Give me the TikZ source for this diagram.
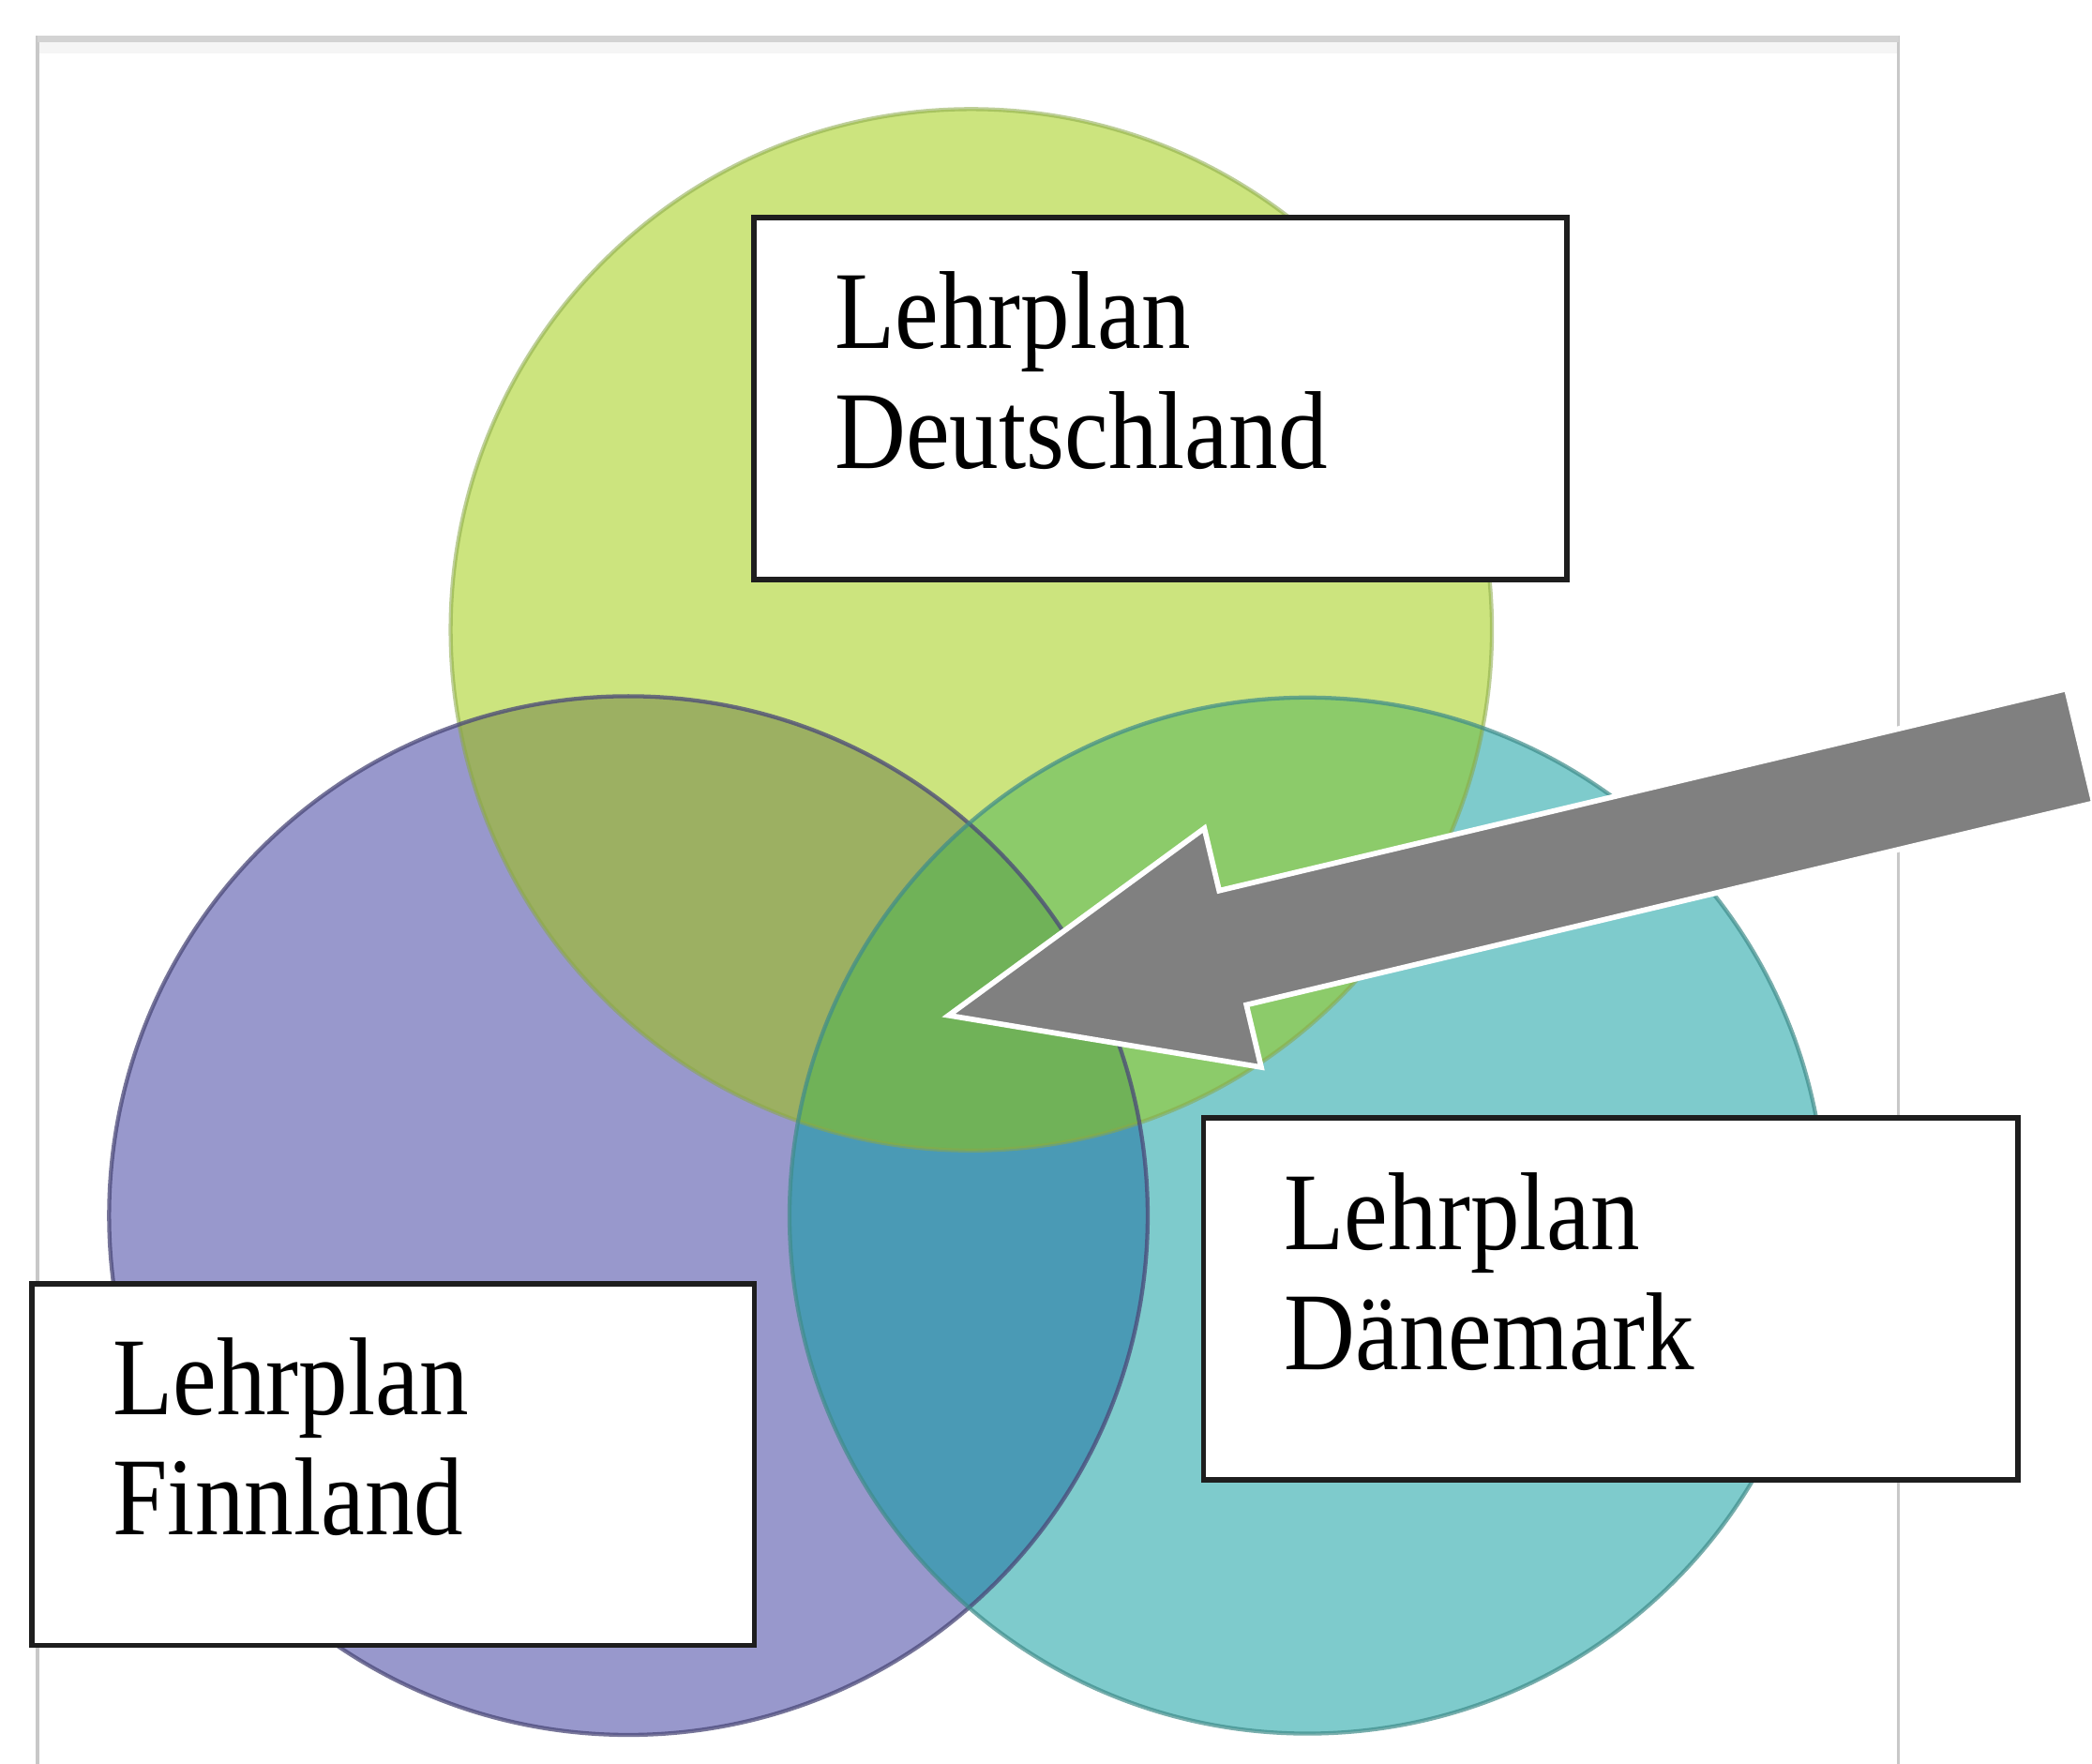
\documentclass[tikz,border=0pt]{standalone}
\usepackage{fontspec}
\setmainfont{Liberation Serif}[FakeStretch=0.89]
\usetikzlibrary{calc}
\definecolor{cG}{HTML}{CCE47E}
\definecolor{cP}{HTML}{9898CC}
\definecolor{cT}{HTML}{7ECBCC}
\definecolor{cGP}{HTML}{9CB062}
\definecolor{cGT}{HTML}{8CCB6A}
\definecolor{cPT}{HTML}{4A9AB5}
\definecolor{cGPT}{HTML}{70B258}
\definecolor{eG}{HTML}{8AA848}
\definecolor{eP}{HTML}{4A4878}
\definecolor{eT}{HTML}{3F8C8A}
\definecolor{framec}{HTML}{C8C8C8}
\definecolor{boxc}{HTML}{1E1E1E}
\definecolor{arrowc}{HTML}{808080}
\tikzset{
  labelbox/.style={draw=boxc, line width=0.04cm, fill=white, inner sep=0pt,
    anchor=north west, minimum height=2.71cm},
  labeltext/.style={inner sep=0pt, anchor=north west, align=left,
    font=\fontsize{23.6pt}{25.6pt}\selectfont, text=black},
  blockarrow/.style={fill=arrowc, draw=white, line width=0.04cm, line join=miter},
}
\begin{document}
\begin{tikzpicture}[x=0.01cm,y=-0.01cm]
\useasboundingbox (0,0) rectangle (1568,1322);
\fill[white] (0,0) rectangle (1568,1322);
% frame
\fill[black!4] (29,29) rectangle (1422,40);
\draw[framec, line width=0.025cm] (28,1330) -- (28,28) -- (1423,28) -- (1423,1330);
\draw[framec!80!white, line width=0.05cm] (28,29) -- (1423,29);
% circle fills
\def\cGreen{(728,472) circle [radius=3.90cm]}
\def\cPurple{(471,911) circle [radius=3.89cm]}
\def\cTeal{(980,911) circle [radius=3.88cm]}
\fill[cG] \cGreen;
\fill[cP] \cPurple;
\fill[cT] \cTeal;
\begin{scope}
  \clip \cGreen;
  \fill[cGP] \cPurple;
  \fill[cGT] \cTeal;
\end{scope}
\begin{scope}
  \clip \cPurple;
  \fill[cPT] \cTeal;
\end{scope}
\begin{scope}
  \clip \cGreen;
  \clip \cPurple;
  \fill[cGPT] \cTeal;
\end{scope}
% circle outlines
\draw[eG, draw opacity=0.55, line width=0.03cm] \cGreen;
\draw[eP, draw opacity=0.75, line width=0.03cm] \cPurple;
\draw[eT, draw opacity=0.7, line width=0.03cm] \cTeal;
% boxes
\node[labelbox, minimum width=6.09cm] (dbox) at (563,161) {};
\node[labelbox, minimum width=6.10cm] (dkbox) at (900,836) {};
\node[labelbox, minimum width=5.41cm] (fbox) at (22,960) {};
\node[labeltext] (dtext) at ($(dbox.north west)+(62,42)$) {Lehrplan\\Deutschland};
\node[labeltext] (dktext) at ($(dkbox.north west)+(62,42)$) {Lehrplan\\Dänemark};
\node[labeltext] (ftext) at ($(fbox.north west)+(62,42)$) {Lehrplan\\Finnland};
% block arrow
\draw[blockarrow] (711,761) -- (902.7,620.8) -- (913.8,667.5) -- (1549,516.2)
  -- (1569.4,601.8) -- (934.2,753.1) -- (945.3,799.8) -- cycle;
\end{tikzpicture}
\end{document}
